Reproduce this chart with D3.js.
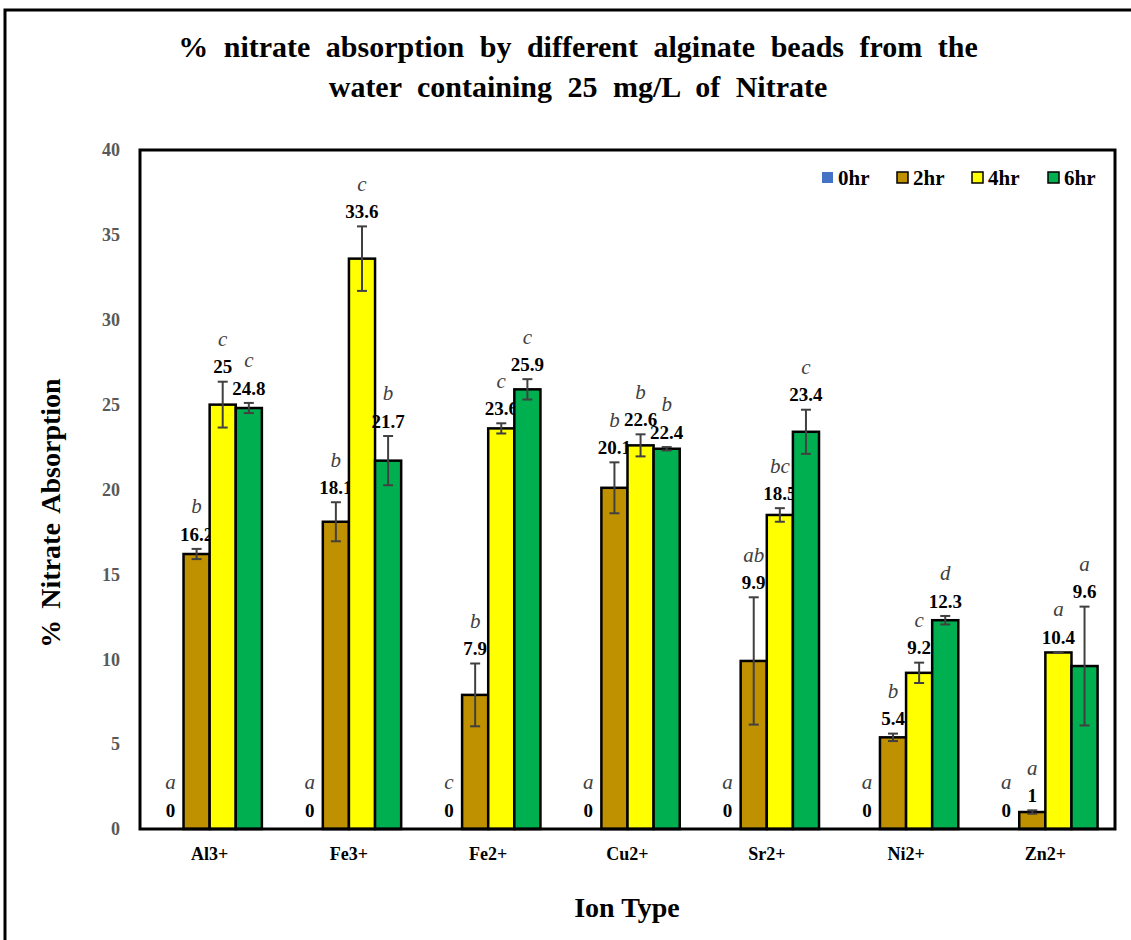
<!DOCTYPE html>
<html>
<head>
<meta charset="utf-8">
<script src="https://cdn.jsdelivr.net/npm/d3@7"></script>
<style>
  body { margin: 0; background: #fff; }
  svg text { font-family: "Liberation Serif", "Times New Roman", serif; }
</style>
</head>
<body>
<svg id="chart" width="1131" height="940"></svg>
<script>
// ion types on the x axis
var categories = ["Al3+", "Fe3+", "Fe2+", "Cu2+", "Sr2+", "Ni2+", "Zn2+"];
var series = ["0hr", "2hr", "4hr", "6hr"];
var colors = ["#4472C4", "#BF9000", "#FFFF00", "#00B050"];

// % nitrate absorption per time
var values0 = [0, 0, 0, 0, 0, 0, 0];
var values2 = [16.2, 18.1, 7.9, 20.1, 9.9, 5.4, 1];
var values4 = [25, 33.6, 23.6, 22.6, 18.5, 9.2, 10.4];
var values6 = [24.8, 21.7, 25.9, 22.4, 23.4, 12.3, 9.6];

// error bars (+/-)
var err0 = [0, 0, 0, 0, 0, 0, 0];
var err2 = [0.3, 1.15, 1.85, 1.5, 3.75, 0.22, 0.1];
var err4 = [1.35, 1.9, 0.3, 0.65, 0.4, 0.6, 0.03];
var err6 = [0.3, 1.45, 0.6, 0.1, 1.3, 0.25, 3.5];

// significance letters
var letters0 = ["a", "a", "c", "a", "a", "a", "a"];
var letters2 = ["b", "b", "b", "b", "ab", "b", "a"];
var letters4 = ["c", "c", "c", "b", "bc", "c", "a"];
var letters6 = ["c", "b", "c", "b", "c", "d", "a"];

var yTicks = [0, 5, 10, 15, 20, 25, 30, 35, 40];

var allValues = [values0, values2, values4, values6];
var allErr = [err0, err2, err4, err6];
var allLetters = [letters0, letters2, letters4, letters6];

var rows = [];
categories.forEach(function(c, i) {
    series.forEach(function(s, j) {
        rows.push({cat: c, ser: s, idx: j, v: allValues[j][i], e: allErr[j][i], l: allLetters[j][i]});
    });
});

var svg = d3.select("#chart");
var plotL = 140, plotR = 1115, plotT = 150, plotB = 829;

var x0 = d3.scaleBand().domain(categories).range([plotL, plotR]).paddingInner(0.25).paddingOuter(0.125);
var x1 = d3.scaleBand().domain(series).range([0, x0.bandwidth()]);
var y = d3.scaleLinear().domain([0, 40]).range([plotB, plotT]);

// outer frame
svg.append("rect")
    .attr("x", 5).attr("y", 10)
    .attr("width", 1140).attr("height", 950)
    .attr("fill", "none").attr("stroke", "#000").attr("stroke-width", 3);

// title
var title = svg.append("text")
    .attr("text-anchor", "middle")
    .attr("font-weight", "bold")
    .attr("font-size", 30)
    .attr("word-spacing", 8)
    .attr("fill", "#000");
title.append("tspan").attr("x", 578).attr("y", 57).text("% nitrate absorption by different alginate beads from the");
title.append("tspan").attr("x", 578).attr("y", 97).text("water containing 25 mg/L of Nitrate");

// y axis tick labels
var yAxis = d3.axisLeft(y).tickValues(yTicks).tickSize(0).tickPadding(20);
var ya = svg.append("g").attr("transform", "translate(" + plotL + ",0)").call(yAxis);
ya.select(".domain").remove();
ya.selectAll("text")
    .attr("font-family", "Liberation Serif")
    .attr("font-weight", "bold")
    .attr("font-size", 18)
    .attr("fill", "#595959");

// x axis labels
var xAxis = d3.axisBottom(x0).tickSize(0).tickPadding(18);
var xa = svg.append("g").attr("transform", "translate(0," + plotB + ")").call(xAxis);
xa.select(".domain").remove();
xa.selectAll("text")
    .attr("font-family", "Liberation Serif")
    .attr("font-weight", "bold")
    .attr("font-size", 18)
    .attr("fill", "#000");

// bars
var groups = svg.append("g").selectAll("g")
    .data(rows)
    .enter().append("g")
    .attr("transform", function(d) { return "translate(" + (x0(d.cat) + x1(d.ser)) + ",0)"; });

groups.filter(function(d) { return d.v > 0; })
    .append("rect")
    .attr("x", 0)
    .attr("y", function(d) { return y(d.v); })
    .attr("width", x1.bandwidth())
    .attr("height", function(d) { return y(0) - y(d.v); })
    .attr("fill", function(d) { return colors[d.idx]; })
    .attr("stroke", "#000")
    .attr("stroke-width", 2.5);

// error bars
var eb = groups.filter(function(d) { return d.v > 0; }).append("g")
    .attr("stroke", "#404040").attr("stroke-width", 2);
var cx = x1.bandwidth() / 2;
eb.append("line")
    .attr("x1", cx).attr("x2", cx)
    .attr("y1", function(d) { return y(d.v + d.e); })
    .attr("y2", function(d) { return y(d.v - d.e); });
eb.append("line")
    .attr("x1", cx - 5).attr("x2", cx + 5)
    .attr("y1", function(d) { return y(d.v + d.e); })
    .attr("y2", function(d) { return y(d.v + d.e); });
eb.append("line")
    .attr("x1", cx - 5).attr("x2", cx + 5)
    .attr("y1", function(d) { return y(d.v - d.e); })
    .attr("y2", function(d) { return y(d.v - d.e); });

// value labels
function labelY(d) { return d.v > 0 ? y(d.v + d.e) - 15 : y(0) - 19; }
groups.append("text")
    .attr("x", cx)
    .attr("y", labelY)
    .attr("dy", "0.35em")
    .attr("text-anchor", "middle")
    .attr("font-weight", "bold")
    .attr("font-size", 19)
    .attr("fill", "#000")
    .text(function(d) { return d.v; });

// letters
groups.append("text")
    .attr("x", cx)
    .attr("y", function(d) { return labelY(d) - 28; })
    .attr("dy", "0.35em")
    .attr("text-anchor", "middle")
    .attr("font-family", "'Open Sans', sans-serif")
    .attr("font-style", "italic")
    .attr("font-size", 21)
    .attr("fill", "#404040")
    .text(function(d) { return d.l; });

// plot frame
svg.append("rect")
    .attr("x", plotL).attr("y", plotT)
    .attr("width", plotR - plotL).attr("height", plotB - plotT)
    .attr("fill", "none").attr("stroke", "#000").attr("stroke-width", 3);

// axis titles
svg.append("text")
    .attr("transform", "translate(60,513) rotate(-90)")
    .attr("text-anchor", "middle")
    .attr("font-weight", "bold")
    .attr("font-size", 28)
    .attr("word-spacing", 4)
    .text("% Nitrate Absorption");

svg.append("text")
    .attr("x", 627).attr("y", 917)
    .attr("text-anchor", "middle")
    .attr("font-weight", "bold")
    .attr("font-size", 28)
    .text("Ion Type");

// legend
var legX = [822, 897, 972, 1048];
var leg = svg.append("g").selectAll("g")
    .data(series)
    .enter().append("g")
    .attr("transform", function(d, i) { return "translate(" + legX[i] + ",172)"; });
leg.append("rect")
    .attr("width", 11).attr("height", 11)
    .attr("fill", function(d, i) { return colors[i]; })
    .attr("stroke", function(d, i) { return i === 0 ? "none" : "#000"; })
    .attr("stroke-width", 1.5);
leg.append("text")
    .attr("x", 16).attr("y", 5.5)
    .attr("dy", "0.35em")
    .attr("font-weight", "bold")
    .attr("font-size", 21)
    .text(function(d) { return d; });
</script>
</body>
</html>
